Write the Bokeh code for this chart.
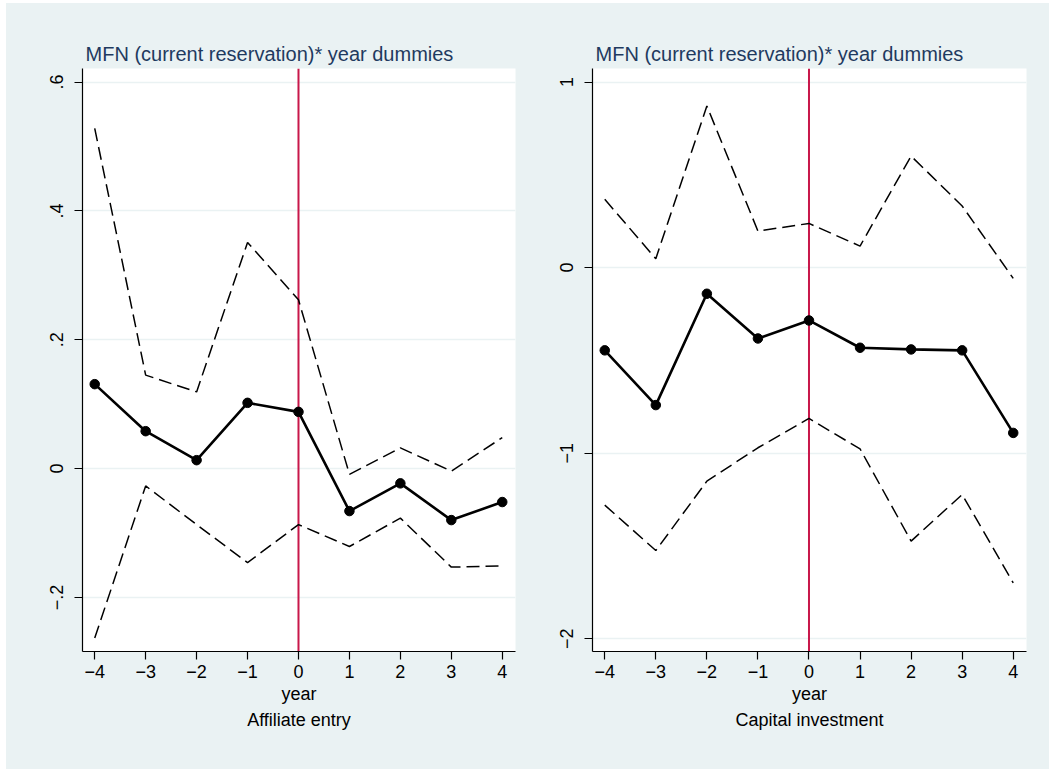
from bokeh.plotting import figure
from bokeh.layouts import row
from bokeh.models import Range1d, FixedTicker, Span, Title
from bokeh.embed import file_html
from bokeh.resources import INLINE

years = [-4, -3, -2, -1, 0, 1, 2, 3, 4]
xtick_labels = ["\u22124", "\u22123", "\u22122", "\u22121", "0", "1", "2", "3", "4"]

entry_coef = [0.131, 0.058, 0.013, 0.102, 0.088, -0.066, -0.023, -0.080, -0.052]
entry_upper = [0.528, 0.145, 0.119, 0.351, 0.262, -0.009, 0.032, -0.004, 0.048]
entry_lower = [-0.263, -0.027, -0.087, -0.146, -0.087, -0.121, -0.077, -0.153, -0.151]
entry_yticks = [-0.2, 0.0, 0.2, 0.4, 0.6]
entry_ylabels = ["\u2212.2", "0", ".2", ".4", ".6"]

cap_coef = [-0.446, -0.741, -0.141, -0.382, -0.285, -0.432, -0.441, -0.446, -0.891]
cap_upper = [0.368, 0.048, 0.871, 0.197, 0.238, 0.116, 0.601, 0.332, -0.058]
cap_lower = [-1.280, -1.525, -1.151, -0.971, -0.813, -0.977, -1.474, -1.223, -1.699]
cap_yticks = [-2, -1, 0, 1]
cap_ylabels = ["\u22122", "\u22121", "0", "1"]

panel_title = "MFN (current reservation)* year dummies"
subtitles = ["Affiliate entry", "Capital investment"]

BG = "#EAF2F3"
FONT = "Liberation Sans"
NAVY = "#1f3a5f"
RED = "#c8174a"


def make_panel(coef, upper, lower, yticks, ylabels, yr, subtitle, width, bl, br):
    p = figure(width=width, height=766, output_backend="svg", toolbar_location=None,
               x_range=Range1d(-4.24, 4.26), y_range=Range1d(*yr),
               min_border_left=bl, min_border_right=br, min_border_top=65, min_border_bottom=118)
    p.border_fill_color = BG
    p.background_fill_color = "white"
    p.outline_line_color = None

    p.title.text = panel_title
    p.title.align = "left"
    p.title.offset = 3
    p.title.standoff = 7
    p.title.text_font = FONT
    p.title.text_font_size = "20px"
    p.title.text_font_style = "normal"
    p.title.text_color = NAVY

    p.xgrid.grid_line_color = None
    p.ygrid.grid_line_color = BG
    p.ygrid.grid_line_width = 1.5
    p.ygrid.ticker = FixedTicker(ticks=yticks)

    p.xaxis.ticker = FixedTicker(ticks=years)
    p.xaxis.major_label_overrides = {y: l for y, l in zip(years, xtick_labels)}
    p.yaxis.ticker = FixedTicker(ticks=yticks)
    p.yaxis.major_label_overrides = {y: l for y, l in zip(yticks, ylabels)}
    p.yaxis.major_label_orientation = "vertical"
    for ax in (p.xaxis, p.yaxis):
        ax.axis_line_color = "black"
        ax.axis_line_width = 1.2
        ax.major_tick_line_color = "black"
        ax.major_tick_line_width = 1.2
        ax.major_tick_out = 8
        ax.major_tick_in = 0
        ax.minor_tick_line_color = None
        ax.major_label_text_font = FONT
        ax.major_label_text_font_size = "18px"
        ax.major_label_text_color = "black"
    p.xaxis.major_label_standoff = 5
    p.yaxis.major_label_standoff = 11
    p.xaxis.axis_label = "year"
    p.xaxis.axis_label_text_font = FONT
    p.xaxis.axis_label_text_font_size = "18px"
    p.xaxis.axis_label_text_font_style = "normal"
    p.xaxis.axis_label_text_color = "black"
    p.xaxis.axis_label_standoff = 3

    p.add_layout(Title(text=subtitle, align="center", text_font=FONT, text_font_size="18px",
                       text_font_style="normal", text_color="black", standoff=3), "below")

    sp = Span(location=0, dimension="height", line_color=RED, line_width=2, level="underlay")
    p.add_layout(sp)

    p.line(years, upper, line_color="black", line_width=1.5, line_dash="13 6")
    p.line(years, lower, line_color="black", line_width=1.5, line_dash="13 6")
    p.line(years, coef, line_color="black", line_width=2.6)
    p.scatter(years, coef, size=9.5, fill_color="black", line_color="black")
    return p


left = make_panel(entry_coef, entry_upper, entry_lower, entry_yticks, entry_ylabels,
                  (-0.284, 0.621), subtitles[0], 518, 76, 9)
right = make_panel(cap_coef, cap_upper, cap_lower, cap_yticks, cap_ylabels,
                   (-2.069, 1.073), subtitles[1], 525, 68, 23)

layout = row(left, right, margin=(3, 0, 0, 6), spacing=0, styles={"background-color": BG})
open("out.html", "w").write(file_html(layout, INLINE))
